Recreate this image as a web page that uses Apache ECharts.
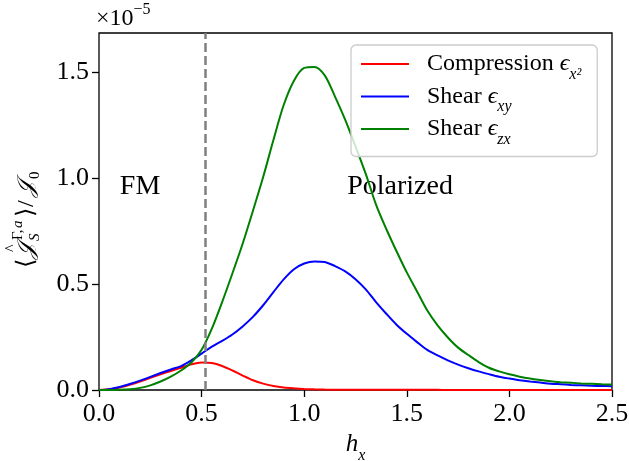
<!DOCTYPE html>
<html><head><meta charset="utf-8">
<script src="https://cdn.jsdelivr.net/npm/echarts@6/dist/echarts.min.js"></script>
<style>html,body{margin:0;padding:0;background:#fff}#c{width:629px;height:461px}</style>
</head><body><div id="c"></div>
<script>
// h_x grid
var hx = [0,0.05,0.1,0.15,0.2,0.25,0.3,0.35,0.4,0.45,0.5,0.55,0.6,0.65,0.7,0.75,0.8,0.85,0.9,0.95,1.0,1.05,1.1,1.15,1.2,1.25,1.3,1.35,1.4,1.45,1.5,1.55,1.6,1.65,1.7,1.75,1.8,1.85,1.9,1.95,2.0,2.05,2.1,2.15,2.2,2.25,2.3,2.35,2.4,2.45,2.5];
// values in units of 1e-5
var compression = [0,0.003,0.012,0.025,0.040,0.057,0.074,0.090,0.105,0.121,0.130,0.127,0.113,0.092,0.068,0.046,0.030,0.019,0.012,0.008,0.005,0.003,0.002,0.0015,0.001,0.001,0.001,0.0008,0.0008,0.0007,0.0007,0.0006,0.0006,0.0006,0.0005,0.0005,0.0005,0.0005,0.0005,0.0005,0.0005,0.0005,0.0005,0.0005,0.0005,0.0005,0.0005,0.0005,0.0005,0.0005,0.0005];
var shearXY = [0,0.004,0.014,0.028,0.044,0.062,0.080,0.097,0.113,0.140,0.172,0.205,0.232,0.262,0.300,0.345,0.400,0.462,0.522,0.570,0.597,0.607,0.604,0.585,0.560,0.523,0.475,0.415,0.360,0.308,0.265,0.226,0.189,0.163,0.140,0.120,0.103,0.088,0.075,0.063,0.054,0.046,0.040,0.035,0.030,0.027,0.024,0.022,0.020,0.019,0.018];
var shearZX = [0,0.000,0.001,0.004,0.010,0.022,0.040,0.063,0.092,0.130,0.190,0.290,0.415,0.550,0.690,0.845,1.005,1.180,1.345,1.460,1.520,1.525,1.485,1.385,1.275,1.150,1.020,0.875,0.760,0.655,0.555,0.465,0.375,0.305,0.248,0.200,0.165,0.132,0.105,0.088,0.074,0.063,0.054,0.047,0.041,0.037,0.034,0.031,0.029,0.027,0.026];
var xTicks = [0,0.5,1.0,1.5,2.0,2.5];
var yTicks = [0,0.5,1.0,1.5];
var transitionH = 0.52;
var regionLabels = ['FM','Polarized'];
var regionPos = [[0.2,0.958],[1.467,0.958]];

function pairs(v){ return hx.map(function(h,i){return [h,v[i]];}); }
var FONT = 'Liberation Serif';
var chart = echarts.init(document.getElementById('c'));
var K = '#000';
function t(x,y,text,size,opts){
  opts = opts||{};
  return {type:'text',x:x,y:y,style:{text:text,fontFamily:opts.family||FONT,fontStyle:opts.italic?'italic':'normal',fontSize:size,fill:K,verticalAlign:'middle',align:'left'}};
}
chart.setOption({
  animation:false,
  backgroundColor:'#fff',
  grid:{left:99,right:17,top:33,bottom:71,outerBoundsMode:'none',containLabel:false,show:true,borderColor:'#000',borderWidth:1.3,backgroundColor:'transparent'},
  xAxis:{type:'value',min:0,max:2.5,interval:0.5,
    axisLine:{show:false},
    axisTick:{show:true,inside:false,length:7,lineStyle:{color:'#000',width:1.3},customValues:xTicks},
    splitLine:{show:false},
    axisLabel:{margin:11,fontFamily:FONT,fontSize:26,color:'#000',customValues:xTicks,formatter:function(v){return v.toFixed(1);}},
    name:'{i|h}{s|x}',nameLocation:'middle',nameGap:42,
    nameTextStyle:{rich:{i:{fontFamily:FONT,fontStyle:'italic',fontSize:25,color:'#000'},
      s:{fontFamily:FONT,fontStyle:'italic',fontSize:16,verticalAlign:'bottom',padding:[0,0,-7,0],color:'#000'}}}
  },
  yAxis:{type:'value',min:0,max:1.685,interval:0.5,
    axisLine:{show:false},
    axisTick:{show:true,inside:false,length:7,lineStyle:{color:'#000',width:1.3},customValues:yTicks},
    splitLine:{show:false},
    axisLabel:{margin:10,fontFamily:FONT,fontSize:26,color:'#000',customValues:yTicks,formatter:function(v){return v.toFixed(1);}}
  },
  legend:{orient:'vertical',left:351,top:45,padding:[7,16,9,10],itemGap:2,
    backgroundColor:'rgba(255,255,255,0.8)',borderColor:'#cccccc',borderWidth:1.3,borderRadius:5,
    icon:'rect',itemWidth:48,itemHeight:2,
    textStyle:{fontFamily:FONT,fontSize:24,color:'#000',padding:[0,0,0,13],
      rich:{n:{fontFamily:FONT,fontSize:24,lineHeight:25,color:'#000'},
            e:{fontFamily:FONT,fontStyle:'italic',fontSize:24,lineHeight:25,color:'#000'},
            s:{fontFamily:FONT,fontStyle:'italic',fontSize:16,lineHeight:25,verticalAlign:'bottom',padding:[0,0,-6,0],color:'#000'}}},
    formatter:function(n){
      if(n==='c') return '{n|Compression }{e|ϵ}{s|x²}';
      if(n==='xy') return '{n|Shear }{e|ϵ}{s|xy}';
      return '{n|Shear }{e|ϵ}{s|zx}';
    },
    data:['c','xy','zx']
  },
  graphic:[
    {type:'text',left:96,top:2,style:{rich:{m:{fontFamily:FONT,fontSize:24,fill:'#000'},p:{fontFamily:FONT,fontSize:16,fill:'#000',verticalAlign:'top',padding:[-5,0,0,0]}},text:'{m|×10}{p|−5}'}},
    {type:'group',x:27,y:268,rotation:Math.PI/2,children:[
      t(0,0,'⟨',24),
      t(9,0,'𝒥',23,{family:'DejaVu Serif',italic:true}),
      t(16,-15,'^',16),
      t(28,-9,'Γ,',15),
      t(40,-9,'a',15,{italic:true}),
      t(27,8,'S',15,{italic:true}),
      t(51,0,'⟩',24),
      t(61,0,'/',24),
      t(71,0,'𝒥',23,{family:'DejaVu Serif',italic:true}),
      t(89,8,'0',15)
    ]}
  ],
  series:[
    {name:'c',type:'line',data:pairs(compression),smooth:0.3,showSymbol:false,lineStyle:{color:'#ff0000',width:2},itemStyle:{color:'#ff0000'},
     markLine:{silent:true,symbol:'none',label:{show:false},lineStyle:{color:'#808080',type:[9,4],width:2.5},data:[{xAxis:transitionH}]}},
    {name:'xy',type:'line',data:pairs(shearXY),smooth:0.3,showSymbol:false,lineStyle:{color:'#0000ff',width:2},itemStyle:{color:'#0000ff'}},
    {name:'zx',type:'line',data:pairs(shearZX),smooth:0.3,showSymbol:false,lineStyle:{color:'#008000',width:2},itemStyle:{color:'#008000'}},
    {name:'labels',type:'scatter',silent:true,symbol:'circle',symbolSize:1,itemStyle:{color:'#ffffff',opacity:1},
     data:regionPos.map(function(p,i){return {value:p,name:regionLabels[i]};}),
     label:{show:true,position:'inside',fontFamily:FONT,fontSize:28,color:'#000',opacity:1,formatter:function(p){return p.name;}}}
  ]
});
</script></body></html>
